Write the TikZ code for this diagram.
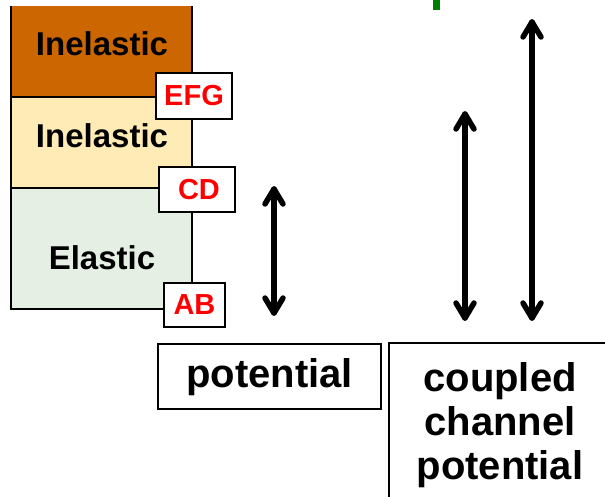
\documentclass[tikz,border=0pt]{standalone}
\usepackage{fontspec}
\setmainfont{Liberation Sans}
\usetikzlibrary{calc}
\definecolor{darkorange}{HTML}{CC6600}
\definecolor{lightyellow}{HTML}{FFEBB5}
\definecolor{lightgreen}{HTML}{E5EFE3}
\definecolor{labelred}{HTML}{FF0000}
\definecolor{markgreen}{HTML}{008000}
\tikzset{
  band/.style={anchor=north west, inner sep=0, outer sep=0, line width=1.6pt, draw=black},
  bandtext/.style={inner sep=0, font=\bfseries\fontsize{33}{38}\selectfont},
  tag/.style={anchor=north west, inner sep=0, outer sep=0, draw=black, line width=1.6pt, fill=white},
  tagtext/.style={inner sep=0, text=labelred, font=\bfseries\fontsize{29}{34}\selectfont},
  outbox/.style={anchor=north west, inner sep=0, outer sep=0, draw=black, line width=1.6pt, fill=white},
  outtext/.style={inner sep=0, align=center, font=\bfseries\fontsize{40}{44}\selectfont},
  shaft/.style={line width=5.5pt, line cap=round, line join=round}
}
\newcommand{\dblarrowdraw}[2]{%
  \draw[shaft] (#1) -- (#2);
  \draw[shaft] ($(#1)+(-9,15)$) -- (#1) -- ($(#1)+(9,15)$);
  \draw[shaft] ($(#2)+(-9,-15)$) -- (#2) -- ($(#2)+(9,-15)$);
}
\begin{document}
\begin{tikzpicture}[x=1pt,y=-1pt]
\useasboundingbox (0,0) rectangle (605,496);
\clip (0,0) rectangle (605,496);
% bands
\node[band, draw=none, fill=darkorange, minimum width=181pt, minimum height=91pt] (b1) at (11,6) {};
\draw[line width=1.6pt] (b1.north west) -- (b1.south west) -- (b1.south east) -- (b1.north east);
\node[band, fill=lightyellow, minimum width=181pt, minimum height=91pt] (b2) at (11,97) {};
\node[band, fill=lightgreen, minimum width=181pt, minimum height=121pt] (b3) at (11,188) {};
\node[bandtext] (t1) at (102,44) {Inelastic};
\node[bandtext] (t2) at (102,136) {Inelastic};
\node[bandtext] (t3) at (102,258) {Elastic};
% tags
\node[tag, minimum width=76pt, minimum height=46pt] (efg) at (156,73) {};
\node[tagtext] at (efg.center) {EFG};
\node[tag, minimum width=76pt, minimum height=45pt] (cd) at (159,167) {};
\node[tagtext, xshift=2pt] at (cd.center) {CD};
\node[tag, minimum width=61pt, minimum height=44pt] (ab) at (164,283) {};
\node[tagtext] at (ab.center) {AB};
% bottom boxes
\node[outbox, minimum width=223pt, minimum height=65pt] (pot) at (158,344) {};
\node[outtext] (pott) at ([yshift=-1pt]pot.center) {potential};
\node[outbox, minimum width=240pt, minimum height=170pt] (cc) at (389,343) {};
\node[outtext] (cct) at (500,425) {coupled\\channel\\potential};
% arrows
\coordinate (a1t) at (274,189);
\coordinate (a1b) at (274,313);
\coordinate (a2t) at (465,114);
\coordinate (a2b) at (465,318);
\coordinate (a3t) at (532,22);
\coordinate (a3b) at (532,318);
\dblarrowdraw{a1t}{a1b}
\dblarrowdraw{a2t}{a2b}
\dblarrowdraw{a3t}{a3b}
% green mark
\node[fill=markgreen, inner sep=0, minimum width=7pt, minimum height=10pt, anchor=north west] (gm) at (433,0) {};
\end{tikzpicture}
\end{document}
